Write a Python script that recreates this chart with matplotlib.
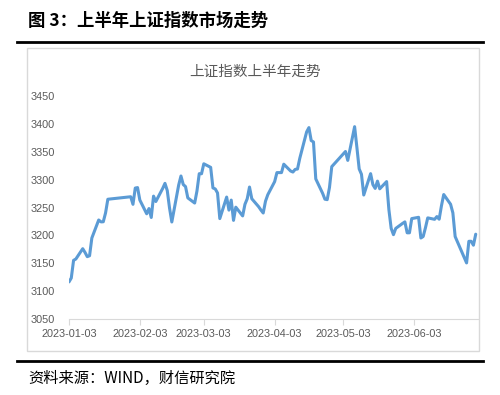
import pandas as pd
import matplotlib.pyplot as plt
import matplotlib.dates as mdates
from matplotlib.patches import Rectangle
from matplotlib.lines import Line2D

plt.rcParams['font.family'] = ['Noto Sans CJK SC', 'DejaVu Sans']

# 上证指数 2023 上半年收盘
dates = [
    '2023-01-03', '2023-01-04', '2023-01-05', '2023-01-06', '2023-01-09', '2023-01-10', '2023-01-11',
    '2023-01-12', '2023-01-13', '2023-01-16', '2023-01-17', '2023-01-18', '2023-01-19', '2023-01-20',
    '2023-01-30', '2023-01-31',
    '2023-02-01', '2023-02-02', '2023-02-03', '2023-02-06', '2023-02-07', '2023-02-08', '2023-02-09',
    '2023-02-10', '2023-02-13', '2023-02-14', '2023-02-15', '2023-02-16', '2023-02-17', '2023-02-20',
    '2023-02-21', '2023-02-22', '2023-02-23', '2023-02-24', '2023-02-27', '2023-02-28',
    '2023-03-01', '2023-03-02', '2023-03-03', '2023-03-06', '2023-03-07', '2023-03-08', '2023-03-09',
    '2023-03-10', '2023-03-13', '2023-03-14', '2023-03-15', '2023-03-16', '2023-03-17', '2023-03-20',
    '2023-03-21', '2023-03-22', '2023-03-23', '2023-03-24', '2023-03-27', '2023-03-28', '2023-03-29',
    '2023-03-30', '2023-03-31',
    '2023-04-03', '2023-04-04', '2023-04-06', '2023-04-07', '2023-04-10', '2023-04-11', '2023-04-12',
    '2023-04-13', '2023-04-14', '2023-04-17', '2023-04-18', '2023-04-19', '2023-04-20', '2023-04-21',
    '2023-04-24', '2023-04-25', '2023-04-26', '2023-04-27', '2023-04-28',
    '2023-05-04', '2023-05-05', '2023-05-08', '2023-05-09', '2023-05-10', '2023-05-11', '2023-05-12',
    '2023-05-15', '2023-05-16', '2023-05-17', '2023-05-18', '2023-05-19', '2023-05-22', '2023-05-23',
    '2023-05-24', '2023-05-25', '2023-05-26', '2023-05-29', '2023-05-30', '2023-05-31',
    '2023-06-01', '2023-06-02', '2023-06-05', '2023-06-06', '2023-06-07', '2023-06-08', '2023-06-09',
    '2023-06-12', '2023-06-13', '2023-06-14', '2023-06-15', '2023-06-16', '2023-06-19', '2023-06-20',
    '2023-06-21', '2023-06-26', '2023-06-27', '2023-06-28', '2023-06-29', '2023-06-30',
]
close = [
    3116.5, 3123.5, 3155.2, 3157.6, 3176.1, 3169.5, 3161.8,
    3163.5, 3195.3, 3227.6, 3224.2, 3224.4, 3240.3, 3264.8,
    3269.3, 3255.7,
    3284.9, 3285.7, 3263.4, 3238.7, 3248.1, 3232.1, 3270.4,
    3260.7, 3284.2, 3293.3, 3280.5, 3249.0, 3224.0, 3290.3,
    3306.5, 3291.2, 3287.5, 3267.2, 3258.0, 3279.6,
    3310.7, 3310.5, 3328.4, 3322.0, 3285.1, 3283.3, 3276.1,
    3230.1, 3268.7, 3245.3, 3263.3, 3226.9, 3250.6, 3234.9,
    3255.7, 3265.7, 3286.7, 3265.7, 3251.4, 3245.4, 3240.1,
    3261.3, 3272.9,
    3296.4, 3312.6, 3312.6, 3327.7, 3315.4, 3313.6, 3318.4,
    3319.0, 3338.2, 3385.6, 3393.3, 3370.1, 3367.5, 3301.3,
    3275.4, 3264.9, 3264.1, 3285.9, 3323.3,
    3350.5, 3334.5, 3395.0, 3357.7, 3319.2, 3309.6, 3272.4,
    3310.7, 3291.0, 3284.2, 3297.3, 3283.5, 3296.5, 3246.2,
    3212.5, 3201.3, 3212.5, 3221.5, 3224.2, 3204.6,
    3204.6, 3230.1, 3232.4, 3195.3, 3197.9, 3213.6, 3231.4,
    3228.8, 3233.7, 3229.0, 3253.0, 3273.3, 3255.8, 3240.4,
    3197.9, 3150.6, 3189.4, 3189.4, 3182.4, 3202.1,
]
xtick_labels = ['2023-01-03', '2023-02-03', '2023-03-03', '2023-04-03', '2023-05-03', '2023-06-03']
yticks = [3050, 3100, 3150, 3200, 3250, 3300, 3350, 3400, 3450]

W, H = 500, 395
fig = plt.figure(figsize=(5, 3.95), dpi=100)

# 标题与分隔线
fig.text(28 / W, 1 - 21 / H, '图 3：上半年上证指数市场走势', fontsize=12.5, fontweight='bold',
         va='center', ha='left', color='black')
fig.add_artist(Line2D([17 / W, 483 / W], [1 - 42 / H, 1 - 42 / H], color='black', lw=2))
fig.add_artist(Line2D([17 / W, 483 / W], [1 - 361 / H, 1 - 361 / H], color='black', lw=2))
fig.text(28 / W, 1 - 378 / H, '资料来源：WIND，财信研究院', fontsize=11, style='italic',
         va='center', ha='left', color='black')

# 图表外框
fig.add_artist(Rectangle((27 / W, 1 - 351 / H), 452 / W, 303 / H, transform=fig.transFigure,
                         fill=False, edgecolor='#d9d9d9', lw=1))
fig.text(255 / W, 1 - 72 / H, '上证指数上半年走势', fontsize=10.5, color='#595959',
         ha='center', va='center')

ax = fig.add_axes([69 / W, 1 - 319 / H, 409 / W, 223 / H])
x = pd.to_datetime(dates)
ax.plot(x, close, color='#5b9bd5', lw=2.2, solid_joinstyle='round', solid_capstyle='round')

ax.set_ylim(3050, 3450)
ax.set_yticks(yticks)
ax.set_xlim(pd.Timestamp('2023-01-03'), pd.Timestamp('2023-07-01'))
ax.set_xticks(pd.to_datetime(xtick_labels))
ax.xaxis.set_major_formatter(mdates.DateFormatter('%Y-%m-%d'))

for s in ['top', 'right', 'left']:
    ax.spines[s].set_visible(False)
ax.spines['bottom'].set_color('#d9d9d9')
ax.tick_params(axis='y', length=0, pad=10, labelsize=7.8, labelcolor='#595959')
ax.tick_params(axis='x', length=4, color='#d9d9d9', pad=3, labelsize=7.8, labelcolor='#595959')
for lab in ax.get_xticklabels() + ax.get_yticklabels():
    lab.set_fontfamily('Liberation Sans')

fig.savefig('out.png', dpi=100)
